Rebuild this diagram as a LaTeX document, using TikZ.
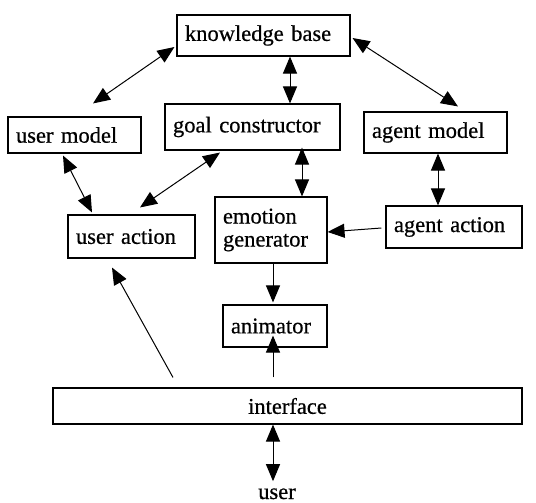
\documentclass[tikz,border=0pt]{standalone}
\usepackage{fontspec}
\setmainfont{Liberation Serif}[WordSpace=1.6,FakeBold=0.6]
\usetikzlibrary{arrows.meta}
\begin{document}
\begin{tikzpicture}[x=1pt,y=-1pt,
  font=\fontsize{22.5}{23}\selectfont,
  box/.style={draw,line width=1.1pt,inner xsep=8pt,inner ysep=0pt,align=left},
  tip/.tip={Triangle[length=17pt,width=14pt]},
  sar/.style={line width=1pt,-tip},
  dar/.style={line width=1pt,tip-tip}]
\useasboundingbox (0,0) rectangle (536,503);
\node[box,minimum width=173pt,minimum height=41pt,text width=157pt] (kb) at (263.5,35.5) {knowledge base};
\node[box,minimum width=133pt,minimum height=36pt,text width=117pt] (um) at (74.5,135) {user model};
\node[box,minimum width=175pt,minimum height=46pt,text width=159pt] (gc) at (252.5,127) {goal constructor};
\node[box,minimum width=143pt,minimum height=41pt,text width=127pt] (am) at (435.5,132.5) {agent model};
\node[box,minimum width=127pt,minimum height=43pt,text width=111pt] (ua) at (131.5,236.5) {user action};
\node[box,minimum width=112pt,minimum height=66pt,text width=96pt] (eg) at (271,230) {emotion\\generator};
\node[box,minimum width=136pt,minimum height=42pt,text width=120pt] (aa) at (454,227) {agent action};
\node[box,minimum width=104pt,minimum height=42pt,text width=88pt] (an) at (275,326) {animator};
\node[box,minimum width=469pt,minimum height=36pt,align=center] (if) at (287.5,406) {interface};
\node[inner sep=0pt,anchor=base] (usr) at (277,499) {user};

\draw[dar] ([xshift=-2pt,yshift=-11.5pt]kb.west) -- ([xshift=18.5pt,yshift=13pt]um.north);
\draw[dar] ([xshift=26.5pt]kb.south) -- ([xshift=37.5pt]gc.north);
\draw[dar] ([xshift=2pt,yshift=-2.5pt]kb.east) -- ([xshift=22.5pt,yshift=5pt]am.north);
\draw[dar] ([xshift=-11.5pt,yshift=-2pt]um.south) -- ([xshift=-39.5pt,yshift=2pt]ua.north);
\draw[dar] ([xshift=-32.5pt,yshift=-2pt]gc.south) -- ([xshift=8.5pt,yshift=7pt]ua.north);
\draw[dar] ([xshift=49.5pt,yshift=3pt]gc.south) -- ([xshift=31pt]eg.north);
\draw[dar] ([xshift=2.5pt]am.south) -- ([xshift=-16pt]aa.north);
\draw[sar] ([yshift=-1pt,xshift=-4pt]aa.west) -- ([yshift=-2pt]eg.east);
\draw[sar] ([xshift=2pt]eg.south) -- ([xshift=-2pt,yshift=2pt]an.north);
\draw[sar] ([xshift=-14.5pt,yshift=10pt]if.north) -- ([xshift=-2pt,yshift=12pt]an.south);
\draw[sar] ([xshift=-114.5pt,yshift=10pt]if.north) -- ([xshift=-19.5pt,yshift=-9pt]ua.south);
\draw[dar] ([xshift=-14.5pt]if.south) -- ([xshift=-4pt,yshift=7pt]usr.north);
\end{tikzpicture}
\end{document}
